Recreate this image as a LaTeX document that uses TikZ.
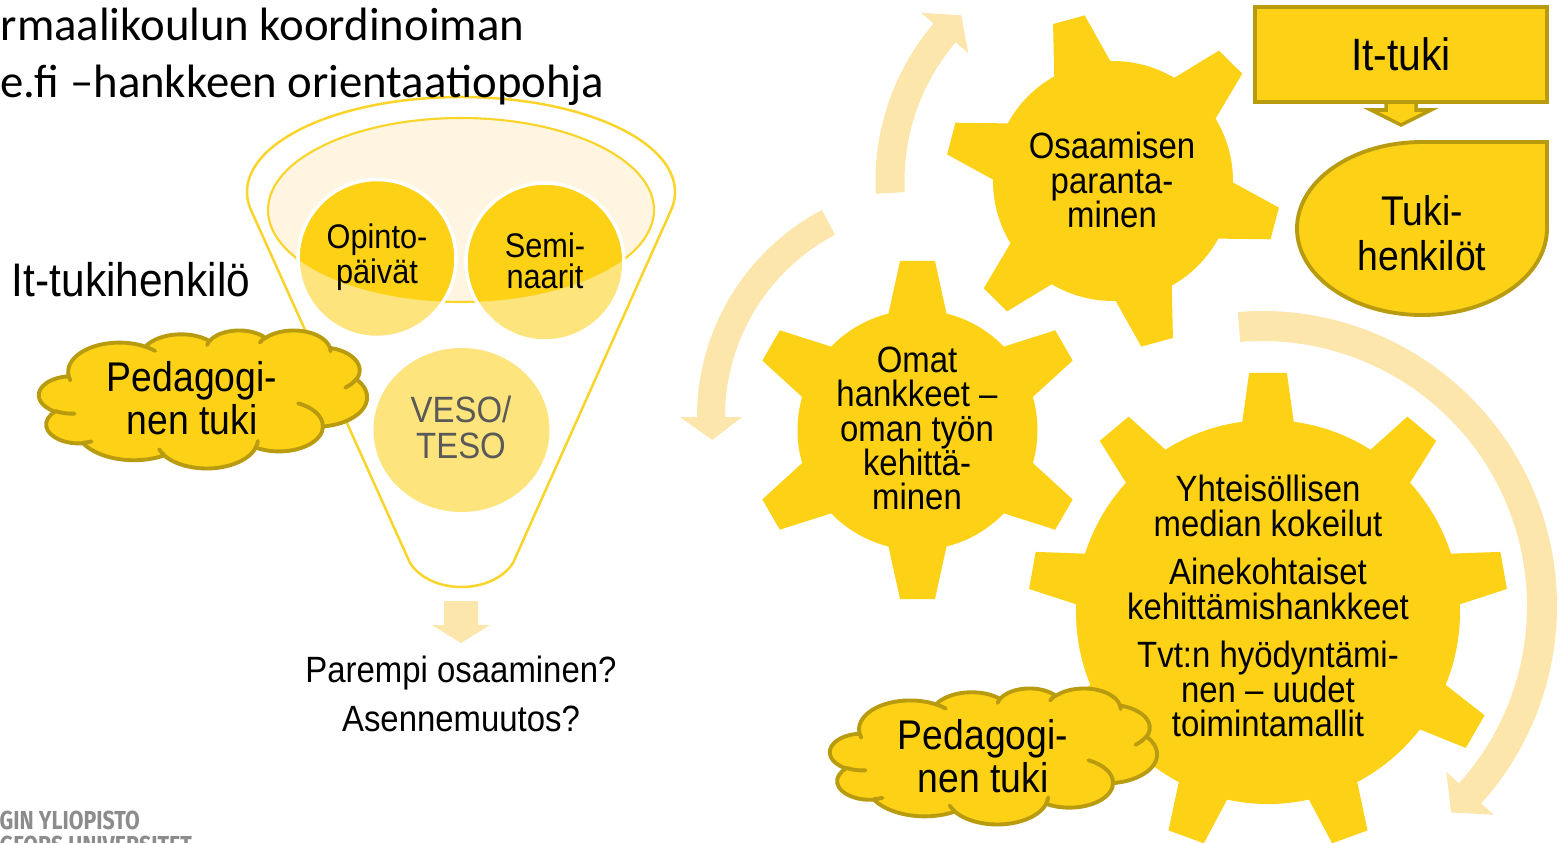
\documentclass[tikz,border=0pt]{standalone}
\usepackage{fontspec}
\setmainfont{Liberation Sans}[FakeStretch=0.9]
\newfontfamily\titlefont{Carlito}
\newfontfamily\logofont{Fira Sans}[FakeStretch=0.82]
\usetikzlibrary{calc}

\definecolor{gearyellow}{RGB}{252,209,22}
\definecolor{lightyellow}{RGB}{253,228,124}
\definecolor{cream}{RGB}{255,245,224}
\definecolor{arrowpeach}{RGB}{253,230,172}
\definecolor{olive}{RGB}{185,155,15}
\definecolor{funnelline}{RGB}{250,212,40}
\definecolor{grayt}{RGB}{89,89,89}
\definecolor{logogray}{RGB}{140,140,140}

\newcommand\fs[2]{\fontsize{#1}{#2}\selectfont}

% ---- cloud outline built from elliptic arcs (432 x 432 box, y pointing down)
\newcommand\cldpath{}
\newcommand\cldarc[4]{% wR hR start sweep (visual angles, degrees)
  \pgfmathsetmacro\cldA{atan2((#1)*sin(#3),(#2)*cos(#3))}%
  \pgfmathsetmacro\cldB{atan2((#1)*sin((#3)+(#4)),(#2)*cos((#3)+(#4)))}%
  \pgfmathsetmacro\cldB{(\cldA)+mod((\cldB)-(\cldA)+720,360)}%
  \xdef\cldpath{\cldpath arc[start angle=\cldA, end angle=\cldB, x radius=#1, y radius=#2]}%
}
\newcommand\cldmove[2]{\xdef\cldpath{\cldpath (#1,#2)}}

\gdef\cldpath{}
\cldmove{39.00}{143.70}
\cldarc{67.53}{91.90}{-190.4875}{123.7805}
\cldarc{53.33}{72.67}{-144.1024}{89.9452}
\cldarc{43.65}{59.45}{-145.8079}{99.7230}
\cldarc{48.57}{65.95}{-130.9861}{117.2417}
\cldarc{53.33}{72.73}{-78.7089}{109.0269}
\cldarc{67.75}{92.20}{-46.2673}{130.2690}
\cldarc{57.85}{78.67}{0.6250}{114.0333}
\cldarc{67.52}{92.15}{22.4516}{115.1726}
\cldarc{77.20}{105.43}{66.2426}{75.7110}
\cldarc{43.60}{59.18}{-274.9421}{146.7356}
\cldarc{43.45}{59.45}{-246.8285}{152.5189}
\global\let\cloudoutline\cldpath

\gdef\cldpath{}
\cldmove{46.93}{261.77}\cldarc{43.45}{59.45}{86.742}{26.430}
\cldmove{69.28}{348.99}\cldarc{43.60}{59.18}{73.610}{11.447}
\cldmove{164.78}{390.90}\cldarc{67.52}{92.15}{137.624}{14.081}
\cldmove{288.27}{347.51}\cldarc{67.52}{92.15}{6.453}{15.998}
\cldmove{341.29}{229.54}\cldarc{57.85}{78.67}{-70.292}{70.917}
\cldmove{417.98}{153.54}\cldarc{53.33}{72.73}{30.318}{27.752}
\cldmove{383.24}{54.26}\cldarc{48.57}{65.95}{-13.744}{14.859}
\cldmove{290.78}{39.52}\cldarc{48.57}{65.95}{-149.181}{18.195}
\cldmove{221.41}{47.20}\cldarc{43.65}{59.45}{-163.494}{17.686}
\cldmove{140.00}{51.92}\cldarc{67.53}{91.90}{-66.707}{12.319}
\cldmove{41.27}{157.89}\cldarc{67.53}{91.90}{157.654}{11.858}
\global\let\cloudcreases\cldpath

% cloud placed in the box with top-left (#1,#2), width #3, height #4
\newcommand\cloudshape[4]{%
  \begin{scope}[shift={(#1,#2)}, xscale={#3/432}, yscale={-#4/432}]
    \filldraw[fill=gearyellow, draw=olive, line width=1.1pt, line join=round]
      \cloudoutline -- cycle;
    \draw[olive, line width=1.1pt, line cap=round] \cloudcreases;
  \end{scope}}

% gear: centre, teeth, rotation, body radius, tip radius, base/tip half angles
\newcommand\gearshape[8]{%
  \fill[gearyellow, shift={(#1,#2)}] ({#4-#7}:#5)
    \foreach \k in {1,...,#3}{
      -- ({#4+(\k-1)*360/#3-#8}:#6) -- ({#4+(\k-1)*360/#3+#8}:#6)
      -- ({#4+(\k-1)*360/#3+#7}:#5)
      arc[start angle={#4+(\k-1)*360/#3+#7}, end angle={#4+\k*360/#3-#7}, radius=#5]
    } -- cycle;}

% curved band arrow: centre, radius, half width, start, end, tip angle, wing
\newcommand\bandarrow[8]{%
  \fill[arrowpeach, shift={(#1,#2)}]
    ({#5}:{#3+#4}) arc[start angle=#5, end angle=#6, radius={#3+#4}]
    -- ({#6}:{#3+#8}) -- ({#7}:{#3}) -- ({#6}:{#3-#8}) -- ({#6}:{#3-#4})
    arc[start angle=#6, end angle=#5, radius={#3-#4}] -- cycle;}

\begin{document}
\begin{tikzpicture}[x=0.01cm, y=0.01cm,
  geartext/.style={align=center, font=\fs{10.4}{9.7}},
  cloudtext/.style={align=center, font=\fs{11.8}{12.2}},
  funneltext/.style={align=center, font=\fs{9.7}{8.9}}]
\useasboundingbox (0,0) rectangle (1560,-842);
\fill[white] (0,0) rectangle (1560,-842);

% ---------- circular arrows round the gears
\bandarrow{1118}{-181}{228}{14.5}{183}{139.5}{133.4}{31}
\bandarrow{931}{-417}{220}{14}{117.8}{180}{186}{31}
\bandarrow{1262}{-606}{280}{15}{94.7}{-42}{-47.5}{32}

% ---------- funnel
\draw[funnelline, line width=0.7pt]
  (250.3,-208.5) arc[start angle=190, end angle=-10, x radius=214, y radius=95]
  -- (513,-563) .. controls (492,-595) and (431,-595) .. (410,-563) -- cycle;
\filldraw[fill=cream, draw=funnelline, line width=0.6pt]
  (461,-210) ellipse[x radius=193, y radius=92];
\fill[lightyellow] (377,-258.5) circle[radius=79];
\fill[lightyellow] (545,-262) circle[radius=79];
\begin{scope}
  \clip (461,-210) ellipse[x radius=193, y radius=92];
  \fill[gearyellow] (377,-258.5) circle[radius=79];
  \fill[gearyellow] (545,-262) circle[radius=79];
\end{scope}
\draw[white, line width=1pt] (377,-258.5) circle[radius=79];
\draw[white, line width=1pt] (545,-262) circle[radius=79];
\fill[lightyellow] (461.5,-430) ellipse[x radius=88, y radius=82];

% arrow out of the funnel
\fill[arrowpeach] (444,-601) -- (478,-601) -- (478,-625) -- (490,-625)
  -- (461,-643) -- (432,-625) -- (444,-625) -- cycle;

% ---------- gears
\gearshape{1113}{-181}{6}{105.3}{120}{168}{14}{5.6}
\gearshape{917.5}{-430}{6}{90}{120}{170}{14}{5.9}
\gearshape{1268}{-612}{9}{90}{192}{240}{7.7}{4.5}

% ---------- It-tuki box, arrow and support persons
\filldraw[fill=gearyellow, draw=olive, line width=1pt, line join=miter]
  (1386,-101) -- (1386,-110) -- (1371,-110) -- (1401,-125) -- (1431,-110)
  -- (1416,-110) -- (1416,-101);
\node[draw=olive, fill=gearyellow, line width=1.1pt, minimum width=2.92cm,
  minimum height=0.95cm, inner sep=0, font=\fs{12.9}{14}] (ittuki) at (1401,-54.5) {It-tuki};
\filldraw[fill=gearyellow, draw=olive, line width=1.1pt]
  (1422,-142) -- (1547,-142) -- (1547,-228.5)
  arc[start angle=0, end angle=-270, x radius=125, y radius=86.5] -- cycle;

% ---------- clouds
\cloudshape{39}{-330}{328}{138}
\cloudshape{830}{-688}{327}{136}

% ---------- texts
\node[font=\fs{13.4}{15}] (itperson) at (131,-280) {It-tukihenkilö};
\node[cloudtext] (pedleft) at (192,-398) {Pedagogi-\\nen tuki};
\node[funneltext] (opinto) at (377,-257.5) {Opinto-\\päivät};
\node[funneltext] (semi) at (545,-261) {Semi-\\naarit};
\node[align=center, font=\fs{10.4}{10}, text=grayt] (veso) at (461,-427.5) {VESO/\\TESO};
\node[align=center, font=\fs{10.4}{13.7}] (result) at (461,-694) {Parempi osaaminen?\\Asennemuutos?};
\node[geartext] (osaaminen) at (1112,-180) {Osaamisen\\paranta-\\minen};
\node[geartext] (omat) at (917,-428.5) {Omat\\hankkeet –\\oman työn\\kehittä-\\minen};
\node[geartext] (yhteis) at (1268,-606) {Yhteisöllisen\\median kokeilut\\[4.2pt]Ainekohtaiset\\kehittämishankkeet\\[4.2pt]Tvt:n hyödyntämi-\\nen – uudet\\toimintamallit};
\node[cloudtext] (pedright) at (983,-756) {Pedagogi-\\nen tuki};
\node[align=center, font=\fs{11.8}{12.8}] (tuki) at (1422,-233) {Tuki-\\henkilöt};

% ---------- title and logo
\node[anchor=base west, inner sep=0, font=\titlefont\fs{13.3}{16}] (title1) at (0,-40) {rmaalikoulun koordinoiman};
\node[anchor=base west, inner sep=0, font=\titlefont\fs{13.3}{16}] (title2) at (0,-97) {e.fi –hankkeen orientaatiopohja};
\node[anchor=base west, inner sep=0, font=\logofont\bfseries\fs{7.4}{9}, text=logogray] (logo1) at (-1,-829) {GIN YLIOPISTO};
\node[anchor=base west, inner sep=0, font=\logofont\bfseries\fs{7.4}{9}, text=logogray] (logo2) at (-1,-854) {GFORS UNIVERSITET};
\end{tikzpicture}
\end{document}
